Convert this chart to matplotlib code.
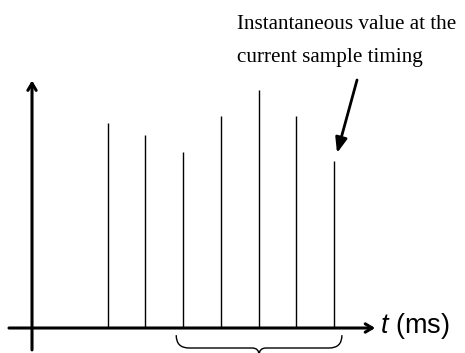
import matplotlib
matplotlib.use("Agg")
import matplotlib.pyplot as plt
from matplotlib.path import Path
import matplotlib.patches as mpatches

plt.rcParams["mathtext.fontset"] = "custom"
plt.rcParams["mathtext.it"] = "Liberation Sans:italic"
plt.rcParams["mathtext.rm"] = "Liberation Sans"

# sample instants and instantaneous values
sample_t = [2, 3, 4, 5, 6, 7, 8]
sample_v = [0.86, 0.81, 0.74, 0.89, 1.0, 0.89, 0.70]

note_lines = ["Instantaneous value at the", "current sample timing"]
x_label = "$t$ (ms)"

fig = plt.figure(figsize=(4.65, 3.53), dpi=100)
ax = fig.add_axes([0, 0, 1, 1])
ax.set_xlim(-0.848, 11.47)
ax.set_ylim(-0.105, 1.378)
ax.axis("off")

# axes with arrow heads
ax.annotate("", xy=(9.09, 0), xytext=(-0.61, 0),
            arrowprops=dict(arrowstyle="->,head_length=0.5,head_width=0.3",
                            lw=2.2, color="black", shrinkA=0, shrinkB=0))
ax.annotate("", xy=(0, 1.04), xytext=(0, -0.092),
            arrowprops=dict(arrowstyle="->,head_length=0.5,head_width=0.3",
                            lw=2.2, color="black", shrinkA=0, shrinkB=0))

ax.vlines(sample_t, 0, sample_v, colors="black", lw=1.0)

# curly brace under the last samples
x0, x1 = sample_t[2] - 0.18, sample_t[-1] + 0.21
xm = (x0 + x1) / 2
yt, yb, ytip = -0.03, -0.084, -0.115
r = 0.34
verts = [(x0, yt), (x0, yb), (x0 + r, yb), (xm - 0.18, yb), (xm, yb), (xm, ytip),
         (xm, yb), (xm + 0.18, yb), (x1 - r, yb), (x1, yb), (x1, yt)]
codes = [Path.MOVETO, Path.CURVE3, Path.CURVE3, Path.LINETO, Path.CURVE3, Path.CURVE3,
         Path.CURVE3, Path.CURVE3, Path.LINETO, Path.CURVE3, Path.CURVE3]
ax.add_patch(mpatches.PathPatch(Path(verts, codes), fill=False, lw=1.0,
                                edgecolor="black", clip_on=False))

# annotation arrow pointing at the current sample
ax.annotate("", xy=(8.08, 0.735), xytext=(8.61, 1.042),
            arrowprops=dict(arrowstyle="-|>,head_length=0.9,head_width=0.35",
                            lw=2.0, color="black", shrinkA=0, shrinkB=0))

ax.text(5.43, 1.256, note_lines[0], family="Liberation Serif", fontsize=15.2,
        va="baseline", ha="left")
ax.text(5.43, 1.118, note_lines[1], family="Liberation Serif", fontsize=15.2,
        va="baseline", ha="left")
ax.text(9.22, -0.021, x_label, family="Liberation Sans", fontsize=19.5,
        va="baseline", ha="left")

fig.savefig("out.png", dpi=100)
